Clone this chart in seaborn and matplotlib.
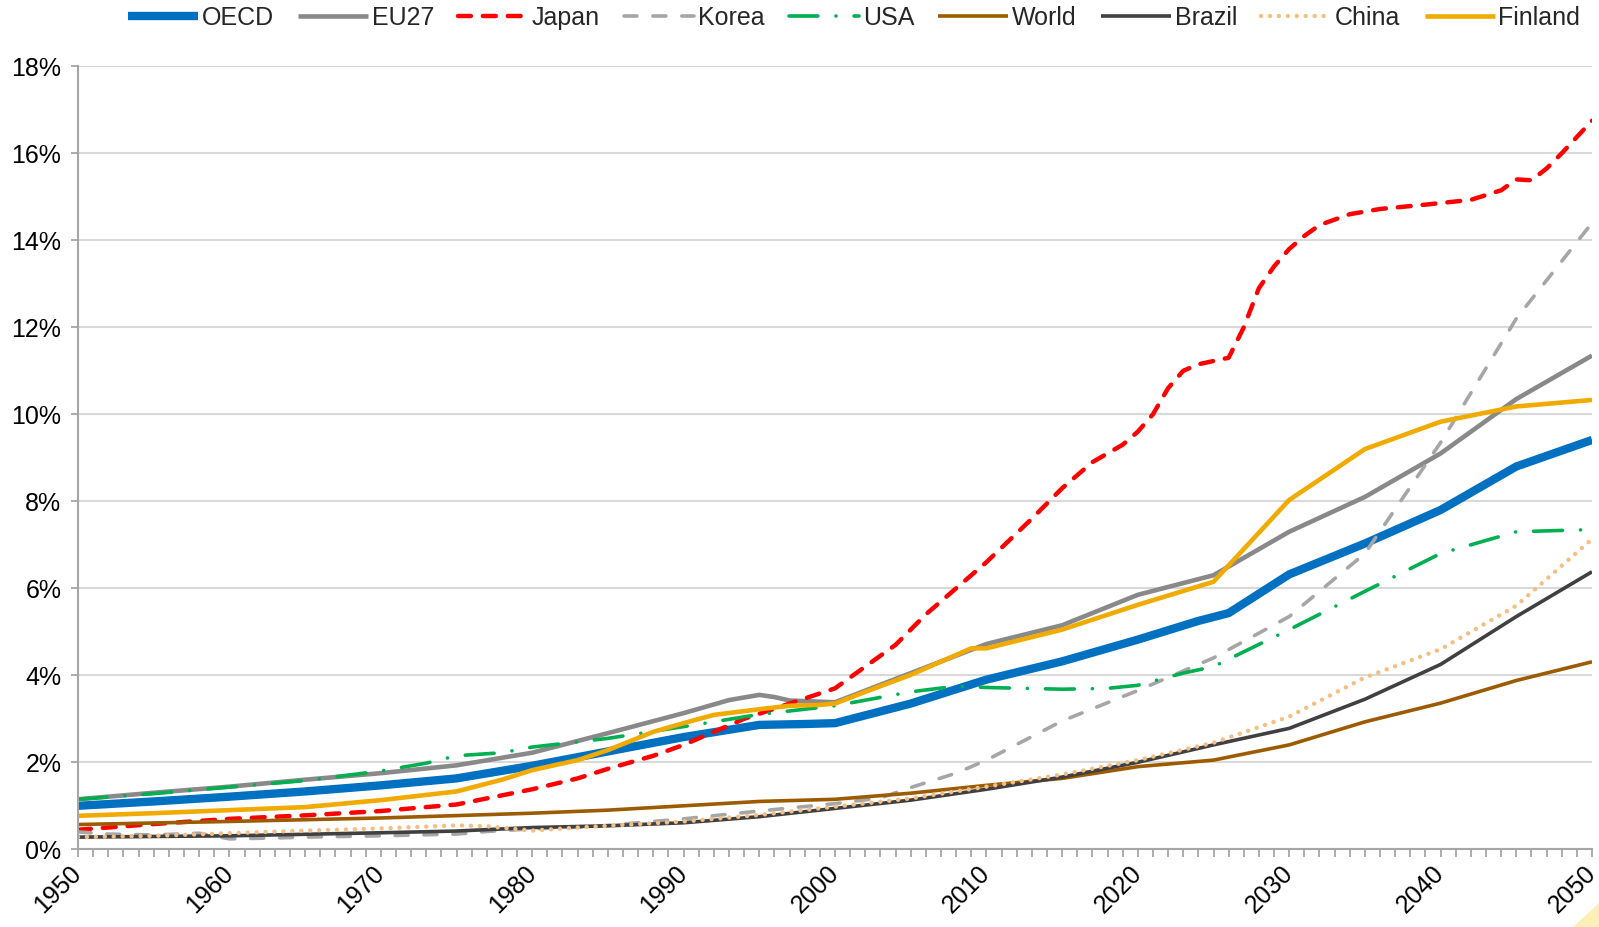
import matplotlib
matplotlib.use("Agg")
import matplotlib.pyplot as plt
import pandas as pd
import seaborn as sns
from matplotlib.ticker import MultipleLocator, FuncFormatter
from matplotlib.patches import Polygon

# ---------------- data (share of population, %) ----------------
series_names = ["OECD", "EU27", "Japan", "Korea", "USA", "World", "Brazil", "China", "Finland"]

oecd_years = [1950, 1955, 1960, 1965, 1970, 1975, 1980, 1985, 1990, 1995, 1998, 2000, 2002, 2005,
              2010, 2015, 2020, 2024, 2026, 2030, 2035, 2040, 2045, 2050]
oecd_vals = [1.00, 1.10, 1.21, 1.33, 1.47, 1.63, 1.92, 2.25, 2.58, 2.86, 2.88, 2.90, 3.08, 3.35,
             3.90, 4.32, 4.82, 5.25, 5.43, 6.32, 7.03, 7.80, 8.80, 9.41]

eu27_years = [1950, 1955, 1960, 1965, 1970, 1975, 1980, 1985, 1990, 1993, 1995, 1996, 1997, 2000,
              2005, 2010, 2015, 2020, 2025, 2030, 2035, 2040, 2045, 2050]
eu27_vals = [1.15, 1.30, 1.44, 1.60, 1.75, 1.93, 2.22, 2.67, 3.13, 3.43, 3.55, 3.50, 3.42, 3.38,
             4.05, 4.72, 5.15, 5.85, 6.30, 7.30, 8.10, 9.10, 10.35, 11.35]

japan_years = [1950, 1955, 1960, 1965, 1970, 1975, 1980, 1983, 1985, 1988, 1990, 1994, 1997, 2000,
               2002, 2004, 2006, 2008, 2010, 2013, 2015, 2017, 2019, 2020, 2021, 2022, 2023, 2024,
               2026, 2027, 2028, 2029, 2030, 2031, 2032, 2034, 2036, 2039, 2042, 2044, 2045, 2046,
               2047, 2048, 2050]
japan_vals = [0.45, 0.58, 0.70, 0.78, 0.88, 1.03, 1.38, 1.63, 1.85, 2.15, 2.40, 3.00, 3.35, 3.70,
              4.20, 4.70, 5.40, 6.00, 6.60, 7.60, 8.30, 8.90, 9.30, 9.60, 10.00, 10.60, 11.00, 11.15,
              11.30, 12.00, 12.90, 13.40, 13.80, 14.10, 14.35, 14.60, 14.72, 14.82, 14.93, 15.15, 15.40, 15.38,
              15.65, 16.00, 16.75]

korea_years = [1950, 1952, 1955, 1958, 1960, 1963, 1965, 1970, 1975, 1977, 1980, 1984, 1990, 1995,
               2000, 2003, 2005, 2008, 2010, 2015, 2020, 2025, 2030, 2035, 2040, 2045, 2050]
korea_vals = [0.40, 0.35, 0.33, 0.37, 0.24, 0.26, 0.28, 0.31, 0.35, 0.41, 0.47, 0.52, 0.70, 0.88,
              1.05, 1.18, 1.42, 1.75, 2.05, 2.95, 3.65, 4.40, 5.35, 6.80, 9.35, 12.20, 14.40]

usa_years = [1950, 1955, 1960, 1965, 1970, 1973, 1975, 1978, 1980, 1985, 1990, 1995, 2000, 2005,
             2008, 2010, 2015, 2018, 2020, 2023, 2025, 2030, 2035, 2040, 2045, 2050]
usa_vals = [1.15, 1.28, 1.43, 1.58, 1.80, 1.98, 2.15, 2.22, 2.35, 2.55, 2.82, 3.10, 3.30, 3.62,
            3.75, 3.72, 3.68, 3.70, 3.77, 4.05, 4.20, 5.05, 5.93, 6.80, 7.30, 7.35]

world_years = [1950, 1960, 1970, 1980, 1985, 1990, 1995, 2000, 2005, 2010, 2015, 2020, 2025, 2030,
               2035, 2040, 2045, 2050]
world_vals = [0.57, 0.64, 0.72, 0.83, 0.90, 1.00, 1.10, 1.15, 1.29, 1.47, 1.63, 1.90, 2.05, 2.40,
              2.93, 3.36, 3.88, 4.31]

brazil_years = [1950, 1960, 1970, 1975, 1980, 1985, 1990, 1995, 2000, 2005, 2010, 2015, 2020, 2025,
                2030, 2035, 2040, 2045, 2050]
brazil_vals = [0.28, 0.31, 0.38, 0.42, 0.50, 0.54, 0.61, 0.75, 0.94, 1.13, 1.38, 1.66, 2.00, 2.40,
               2.78, 3.45, 4.25, 5.35, 6.38]

china_years = [1950, 1955, 1960, 1965, 1970, 1975, 1977, 1980, 1983, 1990, 1995, 2000, 2005, 2010,
               2015, 2020, 2025, 2030, 2035, 2040, 2045, 2050]
china_vals = [0.28, 0.31, 0.37, 0.43, 0.48, 0.55, 0.53, 0.43, 0.50, 0.64, 0.79, 0.98, 1.17, 1.44,
              1.72, 2.05, 2.45, 3.05, 3.95, 4.60, 5.60, 7.13]

finland_years = [1950, 1955, 1960, 1965, 1970, 1975, 1978, 1980, 1983, 1985, 1988, 1990, 1992, 1995,
                 1997, 1999, 2000, 2002, 2005, 2009, 2010, 2015, 2020, 2025, 2030, 2035, 2040, 2045, 2050]
finland_vals = [0.77, 0.83, 0.90, 0.97, 1.13, 1.33, 1.60, 1.82, 2.05, 2.28, 2.70, 2.90, 3.09, 3.22,
                3.30, 3.32, 3.35, 3.62, 4.01, 4.62, 4.62, 5.05, 5.62, 6.15, 8.03, 9.20, 9.83, 10.18, 10.33]

y_ticks = [0, 2, 4, 6, 8, 10, 12, 14, 16, 18]
x_ticks = [1950, 1960, 1970, 1980, 1990, 2000, 2010, 2020, 2030, 2040, 2050]

data = {
    "OECD": (oecd_years, oecd_vals),
    "EU27": (eu27_years, eu27_vals),
    "Japan": (japan_years, japan_vals),
    "Korea": (korea_years, korea_vals),
    "USA": (usa_years, usa_vals),
    "World": (world_years, world_vals),
    "Brazil": (brazil_years, brazil_vals),
    "China": (china_years, china_vals),
    "Finland": (finland_years, finland_vals),
}

# ---------------- styles ----------------
styles = {
    "OECD":    dict(color="#0070C0", lw=6.0, dashes=None),
    "EU27":    dict(color="#898989", lw=3.3, dashes=None),
    "Japan":   dict(color="#FF0000", lw=3.2, dashes=(2.9, 2.7)),
    "Korea":   dict(color="#A6A6A6", lw=2.6, dashes=(3.6, 4.4)),
    "USA":     dict(color="#00B050", lw=2.6, dashes=(8.0, 5.0, 0.01, 5.0)),
    "World":   dict(color="#9C5B00", lw=2.6, dashes=None),
    "Brazil":  dict(color="#404040", lw=2.6, dashes=None),
    "China":   dict(color="#F5BE82", lw=3.2, dashes=(0.01, 2.0)),
    "Finland": dict(color="#F0AA00", lw=3.3, dashes=None),
}

sns.set_theme(style="white")
plt.rcParams["font.family"] = ["Liberation Sans", "Arial", "DejaVu Sans"]

W, H = 1599, 927
fig = plt.figure(figsize=(W / 100, H / 100), dpi=100)
x0, x1 = 78, 1592
y_top, y_bot = 66.3, 849.3
ax = fig.add_axes([x0 / W, 1 - y_bot / H, (x1 - x0) / W, (y_bot - y_top) / H])

lines = []
for name in series_names:
    yrs, vals = data[name]
    df = pd.DataFrame({"year": yrs, "value": vals})
    st = styles[name]
    sns.lineplot(data=df, x="year", y="value", ax=ax, color=st["color"], linewidth=st["lw"],
                 errorbar=None, legend=False, label=name)
    ln = ax.lines[-1]
    ln.set_solid_joinstyle("round")
    ln.set_solid_capstyle("butt")
    if st["dashes"] is not None:
        ln.set_dashes(st["dashes"])
        ln.set_dash_capstyle("round")
        ln.set_dash_joinstyle("round")
    lines.append(ln)

ax.set_xlim(1950, 2050)
ax.set_ylim(0, 18)
ax.set_xlabel("")
ax.set_ylabel("")
ax.set_yticks(y_ticks)
ax.yaxis.set_major_formatter(FuncFormatter(lambda v, p: f"{int(round(v))}%"))
ax.set_xticks(x_ticks)
ax.xaxis.set_minor_locator(MultipleLocator(1))

ax.set_axisbelow(True)
ax.yaxis.grid(True, color="#D9D9D9", linewidth=1.5)
ax.xaxis.grid(False)
for s in ["top", "right"]:
    ax.spines[s].set_visible(False)
for s in ["left", "bottom"]:
    ax.spines[s].set_color("#A6A6A6")
    ax.spines[s].set_linewidth(1.5)

ax.tick_params(axis="y", which="major", direction="out", length=5, width=1.3, color="#A6A6A6",
               labelsize=18, labelcolor="black", pad=7, left=True)
ax.tick_params(axis="x", which="both", direction="out", length=5.5, width=1.3, color="#A6A6A6",
               bottom=True)
ax.tick_params(axis="x", which="major", labelsize=18, labelcolor="black", pad=9)
for lbl in ax.get_xticklabels():
    lbl.set_rotation(45)
    lbl.set_horizontalalignment("right")
    lbl.set_verticalalignment("center")
    lbl.set_rotation_mode("anchor")

leg = fig.legend(handles=lines, labels=series_names, loc="center",
                 bbox_to_anchor=(854 / W, 1 - 18 / H), ncol=9, frameon=False,
                 fontsize=18, handlelength=2.8, handletextpad=0.15, columnspacing=0.97,
                 borderaxespad=0, borderpad=0)

# decorative corner triangle
tri = Polygon([[1599 / W, 1 - 903 / H], [1599 / W, 0], [1573 / W, 0]], closed=True,
              transform=fig.transFigure, facecolor="#FCEFB8", edgecolor="none")
fig.patches.append(tri)

fig.savefig("out.png", dpi=100)
